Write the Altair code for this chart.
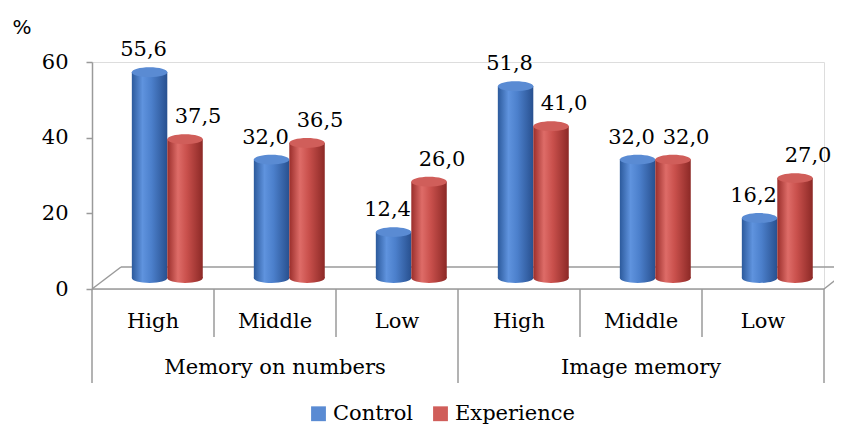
import altair as alt
import pandas as pd

# ---------------- data ----------------
groups = ["Memory on numbers"] * 3 + ["Image memory"] * 3
levels = ["High", "Middle", "Low"] * 2
control = [55.6, 32.0, 12.4, 51.8, 32.0, 16.2]
experience = [37.5, 36.5, 26.0, 41.0, 32.0, 27.0]
series = ["Control", "Experience"]
y_ticks = [0, 20, 40, 60]

keys = [f"{g}|{l}" for g, l in zip(groups, levels)]
rows = []
for k, g, l, c, e in zip(keys, groups, levels, control, experience):
    rows.append(dict(key=k, group=g, level=l, series="Control", value=c))
    rows.append(dict(key=k, group=g, level=l, series="Experience", value=e))
df = pd.DataFrame(rows)
df["label"] = df["value"].map(lambda v: f"{v:.1f}".replace(".", ","))
df["zero"] = 0
cats = pd.DataFrame(dict(key=keys, group=groups, level=levels))
group_names = list(dict.fromkeys(groups))
group_mid = pd.DataFrame(dict(
    key=[[k for k, g in zip(keys, groups) if g == gn][1] for gn in group_names],
    group=group_names))
short_div = pd.DataFrame(dict(key=[k for i, k in enumerate(keys) if i % 3 != 0]))
long_div = pd.DataFrame(dict(key=[k for i, k in enumerate(keys) if i % 3 == 0]))
end_div = pd.DataFrame(dict(key=[keys[-1]]))

# ---------------- styling ----------------
W, H = 732, 227
SERIF = "DejaVu Serif"
FS = 21
GRAY = "#9a9a9a"
ELLIPSE = "M -1 0 A 1 0.28 0 1 1 1 0 A 1 0.28 0 1 1 -1 0 Z"
CAP = 1260

def grad(stops):
    return alt.Gradient(gradient="linear", x1=0, x2=1, y1=0, y2=0,
                        stops=[alt.GradientStop(offset=o, color=c) for o, c in stops])

grads = {
    "Control": grad([(0, "#2c5a9c"), (0.3, "#5f93de"), (0.55, "#4c80cc"), (1, "#28508f")]),
    "Experience": grad([(0, "#9a2e2b"), (0.3, "#de6c68"), (0.55, "#c9504c"), (1, "#8c2926")]),
}
label_dx = {"Control": -6, "Experience": 13}

x_enc = alt.X("key:N", scale=alt.Scale(domain=keys, paddingInner=0, paddingOuter=0), axis=None)
xo_enc = alt.XOffset("series:N", scale=alt.Scale(domain=series, paddingInner=0,
                                                paddingOuter=0.72, align=0.78))
bar_scale = alt.Scale(domain=[0, 60], range=[216, -6], nice=False, zero=True)

base = alt.Chart(df)
layers = []

# floor (3D base) lines
def rule(x1, y1, x2, y2):
    return alt.Chart(pd.DataFrame({"d": [0]})).mark_rule(color=GRAY, strokeWidth=1.5).encode(
        x=alt.value(x1), y=alt.value(y1), x2=alt.value(x2), y2=alt.value(y2))

layers += [rule(0, 227, W, 227), rule(0, 227, 29, 205), rule(29, 205, 760, 205),
           rule(W, 227, 760, 205)]

# dividers of category axis
for d, yb, bp in [(short_div, 275, 0), (long_div, 321, 0), (end_div, 321, 1)]:
    layers.append(alt.Chart(d).mark_rule(color=GRAY, strokeWidth=1.5).encode(
        x=alt.X("key:N", scale=alt.Scale(domain=keys, paddingInner=0, paddingOuter=0),
                axis=None, bandPosition=bp),
        y=alt.value(227), y2=alt.value(yb)))

# category labels
layers.append(alt.Chart(cats).mark_text(font=SERIF, fontSize=FS, color="black",
                                        baseline="middle").encode(
    x=x_enc, y=alt.value(260), text="level:N"))
layers.append(alt.Chart(group_mid).mark_text(font=SERIF, fontSize=FS, color="black",
                                             baseline="middle").encode(
    x=x_enc, y=alt.value(306), text="group:N"))

# y axis carrier
layers.append(alt.Chart(pd.DataFrame({"t": y_ticks})).mark_point(opacity=0).encode(
    y=alt.Y("t:Q", scale=alt.Scale(domain=[0, 60], nice=False),
            axis=alt.Axis(values=y_ticks, title=None, grid=False, tickSize=6,
                          labelPadding=18, labelFont=SERIF, labelFontSize=FS,
                          labelColor="black", domainColor=GRAY, tickColor=GRAY,
                          domainWidth=1.5, tickWidth=1.5))))

# cylinders
for s in series:
    sub = base.transform_filter(alt.datum.series == s)
    layers.append(sub.mark_point(shape=ELLIPSE, size=CAP, filled=True, opacity=1,
                                 color=grads[s]).encode(
        x=x_enc, xOffset=xo_enc,
        y=alt.Y("zero:Q", scale=bar_scale, axis=None)))
    layers.append(sub.mark_bar(color=grads[s]).encode(
        x=x_enc, xOffset=xo_enc,
        y=alt.Y("value:Q", scale=bar_scale, axis=None)))

# top caps (carry the legend)
layers.append(base.mark_point(shape=ELLIPSE, size=CAP, filled=True, opacity=1).encode(
    x=x_enc, xOffset=xo_enc,
    y=alt.Y("value:Q", scale=bar_scale, axis=None),
    color=alt.Color("series:N",
                    scale=alt.Scale(domain=series, range=["#5a8bd3", "#d05e5a"]),
                    legend=alt.Legend(orient="none", legendX=216, legendY=341,
                                      direction="horizontal", title=None,
                                      symbolType="square", symbolSize=220,
                                      symbolStrokeWidth=0, labelFont=SERIF,
                                      labelFontSize=FS, labelColor="black",
                                      columnPadding=16, labelOffset=4, padding=0))))

# value labels
for s in series:
    layers.append(base.transform_filter(alt.datum.series == s).mark_text(
        font=SERIF, fontSize=FS, color="black", baseline="alphabetic",
        dx=label_dx[s], dy=-16).encode(
        x=x_enc, xOffset=xo_enc,
        y=alt.Y("value:Q", scale=bar_scale, axis=None),
        text="label:N"))

# percent sign
layers.append(alt.Chart(pd.DataFrame({"d": [0]})).mark_text(
    text="%", font="DejaVu Sans", fontSize=20, color="black").encode(
    x=alt.value(-70), y=alt.value(-34)))

chart = alt.layer(*layers).resolve_scale(y="independent").properties(
    width=W, height=H,
    autosize=alt.AutoSizeParams(type="none"),
    padding={"left": 84, "top": 54, "right": 10, "bottom": 135},
).configure_view(stroke=None).configure(background="white")

chart.save("out.html", embed_options={"renderer": "svg", "actions": False})
